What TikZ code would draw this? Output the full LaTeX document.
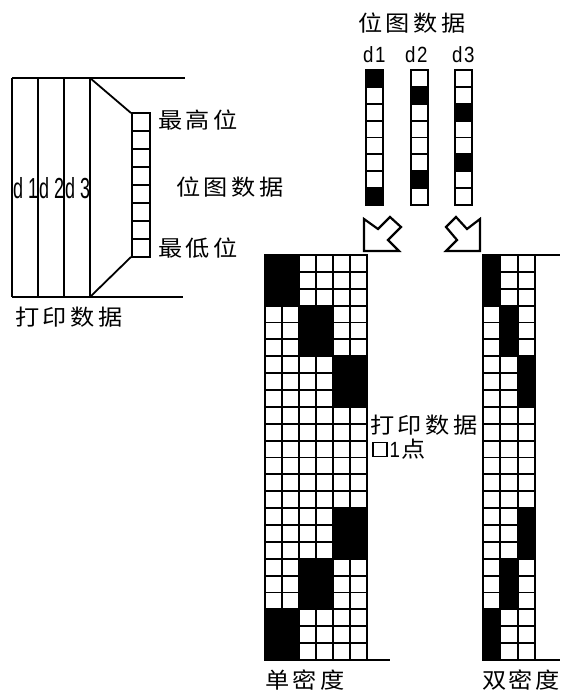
\documentclass[tikz,border=0pt]{standalone}
\usepackage{fontspec}
\setmainfont{Liberation Sans}
\newfontfamily\cjkfont[FakeStretch=1.1]{Noto Sans CJK SC}
\newfontfamily\narrowfont[FakeStretch=0.62]{Liberation Sans}
\newfontfamily\semifont[FakeStretch=0.85]{Liberation Sans}
\newcommand\myk{\kern3.6pt}
\begin{document}
\begin{tikzpicture}[x=1pt,y=-1pt,
  cjklabel/.style={anchor=base west,inner sep=0pt,font=\fontsize{22}{22}\cjkfont},
  dlabel/.style={anchor=base west,inner sep=0pt,font=\fontsize{22}{22}\semifont},
  nlabel/.style={anchor=base west,inner sep=0pt,font=\fontsize{29}{29}\narrowfont},
  gridline/.style={line width=1.9pt,line cap=rect},
  boldline/.style={line width=2.5pt},
  thinline/.style={line width=1.1pt},
  midline/.style={line width=1.8pt},
  arrowshape/.style={line width=2.2pt,line join=miter},
  blk/.style={fill=black}]
\useasboundingbox (0,0) rectangle (560,695);

% ---------------- left part: print data ----------------
\draw[thinline] (12,78) -- (12,297);
\draw[boldline] (38,78) -- (38,297);
\draw[midline] (64,78) -- (64,297);
\draw[midline] (90,78) -- (90,297);
\draw[thinline] (12,78) -- (78,78);
\draw[boldline] (78,78) -- (185,78);
\draw[boldline] (12,297) -- (183,297);
\coordinate (ltop) at (90,78);
\coordinate (lbot) at (90,297);
\coordinate (btop) at (131,113);
\coordinate (bbot) at (131,257);
\draw[midline] (ltop) -- (btop);
\draw[midline] (lbot) -- (bbot);
% bit column
\draw[gridline] (132,113) rectangle (150,257);
\foreach \i in {1,...,7} \draw[gridline] (132,113+18*\i) -- (150,113+18*\i);

\node[nlabel] (ld1) at (13,198) {d 1};
\node[nlabel] (ld2) at (39,198) {d 2};
\node[nlabel] (ld3) at (65,198) {d 3};

\node[cjklabel] (hi) at (158,128.5) {最\myk 高\myk 位};
\node[cjklabel] (bm) at (176,195.5) {位\myk 图\myk 数\myk 据};
\node[cjklabel] (lo) at (158,256.5) {最\myk 低\myk 位};
\node[cjklabel] (pd) at (15,325.5) {打\myk 印\myk 数\myk 据};

% ---------------- top: bitmap columns ----------------
\node[cjklabel] (topbm) at (358,31.5) {位\myk 图\myk 数\myk 据};
\node[dlabel] (td1) at (363,63) {d\kern1.5pt 1};
\node[dlabel] (td2) at (405,63) {d\kern1.5pt 2};
\node[dlabel] (td3) at (452,63) {d\kern1.5pt 3};

\def\h{16.875}
% d1
\fill[blk] (366,70) rectangle (383,70+\h);
\fill[blk] (366,70+7*\h) rectangle (383,205);
% d2
\fill[blk] (411,70+\h) rectangle (428,70+2*\h);
\fill[blk] (411,70+6*\h) rectangle (428,70+7*\h);
% d3
\fill[blk] (455,70+2*\h) rectangle (472,70+3*\h);
\fill[blk] (455,70+5*\h) rectangle (472,70+6*\h);
\foreach \x in {366,411,455} {
  \draw[gridline] (\x,70) rectangle (\x+17,205);
  \foreach \i in {1,...,7} \draw[gridline] (\x,70+\h*\i) -- (\x+17,70+\h*\i);
}

% ---------------- arrows ----------------
\draw[arrowshape] (364,219) -- (378,229) -- (390,217) -- (401,227) -- (388,240) -- (399,251) -- (364,251) -- cycle;
\draw[arrowshape] (480,219) -- (467,229) -- (456,217) -- (446,227) -- (457,240) -- (446,251) -- (480,251) -- cycle;

% ---------------- single density grid ----------------
\def\sx{265}\def\sw{17}\def\gy{255}
\foreach \c/\r in {0/0,2/3,4/6,4/15,2/18,0/21}
  \fill[blk] (\sx+\sw*\c,\gy+\h*\r) rectangle (\sx+\sw*\c+2*\sw,\gy+\h*\r+3*\h);
\foreach \c in {0,...,6} \draw[gridline] (\sx+\sw*\c,\gy) -- (\sx+\sw*\c,660);
\foreach \r in {0,...,24} \draw[gridline] (\sx,\gy+\h*\r) -- (\sx+6*\sw,\gy+\h*\r);
\coordinate (sbl) at (265,660);
\coordinate (sbr) at (390,660);
\draw[midline] (sbl) -- (sbr);

% ---------------- double density grid ----------------
\def\dx{483}\def\dw{17.33}
\foreach \c/\r in {0/0,1/3,2/6,2/15,1/18,0/21}
  \fill[blk] (\dx+\dw*\c,\gy+\h*\r) rectangle (\dx+\dw*\c+\dw,\gy+\h*\r+3*\h);
\foreach \c in {0,...,3} \draw[gridline] (\dx+\dw*\c,\gy) -- (\dx+\dw*\c,660);
\foreach \r in {0,...,24} \draw[gridline] (\dx,\gy+\h*\r) -- (\dx+3*\dw,\gy+\h*\r);
\coordinate (dtr0) at (535,255);
\coordinate (dtr1) at (560,255);
\draw[midline] (dtr0) -- (dtr1);
\coordinate (dbl) at (483,660);
\coordinate (dbr) at (560,660);
\draw[midline] (dbl) -- (dbr);

% ---------------- labels ----------------
\node[cjklabel] (pdm) at (370,433.5) {打\myk 印\myk 数\myk 据};
\node[draw,line width=1.4pt,minimum size=14pt,inner sep=0pt] (dotbox) at (380,449.5) {};
\node[anchor=base west,inner sep=0pt,font=\fontsize{22}{22}\semifont] (one) at (389.5,457) {1};
\node[cjklabel,anchor=base west] (dian) at (one.base east) {\kern1pt 点};
\node[cjklabel] (sd) at (265,688.5) {单\myk 密\myk 度};
\node[cjklabel] (dd) at (482,688.5) {双\kern2.4pt 密\kern2.4pt 度};
\end{tikzpicture}
\end{document}
